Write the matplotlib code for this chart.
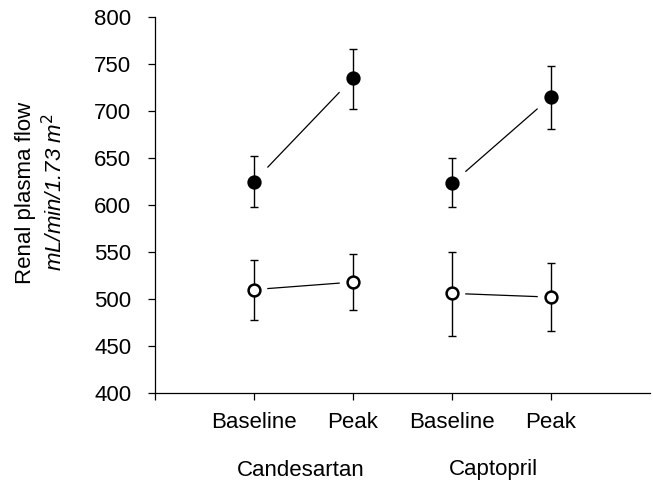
"""
Renal plasma flow at baseline and peak for candesartan and captopril.
"""
import numpy as np
from matplotlib import pyplot as plt

plt.rcParams['font.family'] = ['Liberation Sans', 'DejaVu Sans']

x_pos = [1, 2, 3, 4]
tick_labels = ['Baseline', 'Peak', 'Baseline', 'Peak']
groups = ['Candesartan', 'Captopril']

# filled circles
filled_mean = [625, 735, 623, 715]
filled_low = [598, 702, 598, 681]
filled_high = [652, 766, 650, 748]

# open circles
open_mean = [510, 518, 506, 502]
open_low = [478, 488, 461, 466]
open_high = [541, 548, 550, 538]

GAP = 0.14


def draw_series(ax, mean, low, high, face):
    mean = np.array(mean, dtype=float)
    yerr = [mean - np.array(low), np.array(high) - mean]
    ax.errorbar(x_pos, mean, yerr=yerr, fmt='none', ecolor='black',
                elinewidth=1.0, capsize=3, capthick=1.0, zorder=2)
    ax.plot(x_pos, mean, 'o', markersize=8.5, markerfacecolor=face,
            markeredgecolor='black', markeredgewidth=1.8, zorder=3)
    # connecting lines, stopped short of the markers
    for i in (0, 2):
        x0, x1 = x_pos[i], x_pos[i + 1]
        y0, y1 = mean[i], mean[i + 1]
        t0 = GAP / (x1 - x0)
        t1 = 1 - t0
        ax.plot([x0 + t0 * (x1 - x0), x0 + t1 * (x1 - x0)],
                [y0 + t0 * (y1 - y0), y0 + t1 * (y1 - y0)],
                color='black', linewidth=0.9, zorder=1)


def main():
    fig = plt.figure(figsize=(6.53, 4.83), dpi=100)
    ax = fig.add_axes([155 / 653, 1 - 393 / 483, 495 / 653, 376 / 483])

    draw_series(ax, filled_mean, filled_low, filled_high, 'black')
    draw_series(ax, open_mean, open_low, open_high, 'white')

    ax.set_xlim(0, 5)
    ax.set_ylim(400, 800)
    ax.set_yticks(np.arange(400, 801, 50))
    ax.set_xticks([0] + x_pos)
    ax.set_xticklabels([''] + tick_labels)

    ax.spines['top'].set_visible(False)
    ax.spines['right'].set_visible(False)
    for side in ('left', 'bottom'):
        ax.spines[side].set_linewidth(0.9)
    ax.tick_params(axis='both', direction='out', length=5, width=0.9,
                   labelsize=16)
    ax.tick_params(axis='y', pad=12)
    ax.tick_params(axis='x', pad=9)

    for label, xc in zip(groups, [1.47, 3.42]):
        ax.text(xc, -(470 - 393) / 376, label, transform=ax.get_xaxis_transform(),
                ha='center', va='center', fontsize=16)

    fig.text(26 / 653, 1 - 193 / 483, 'Renal plasma flow', rotation=90,
             ha='center', va='center', fontsize=16)
    fig.text(55 / 653, 1 - 192 / 483, r'mL/min/1.73 m$^{2}$', rotation=90,
             ha='center', va='center', fontsize=16, style='italic')

    fig.savefig('out.png', dpi=100)


if __name__ == '__main__':
    main()
